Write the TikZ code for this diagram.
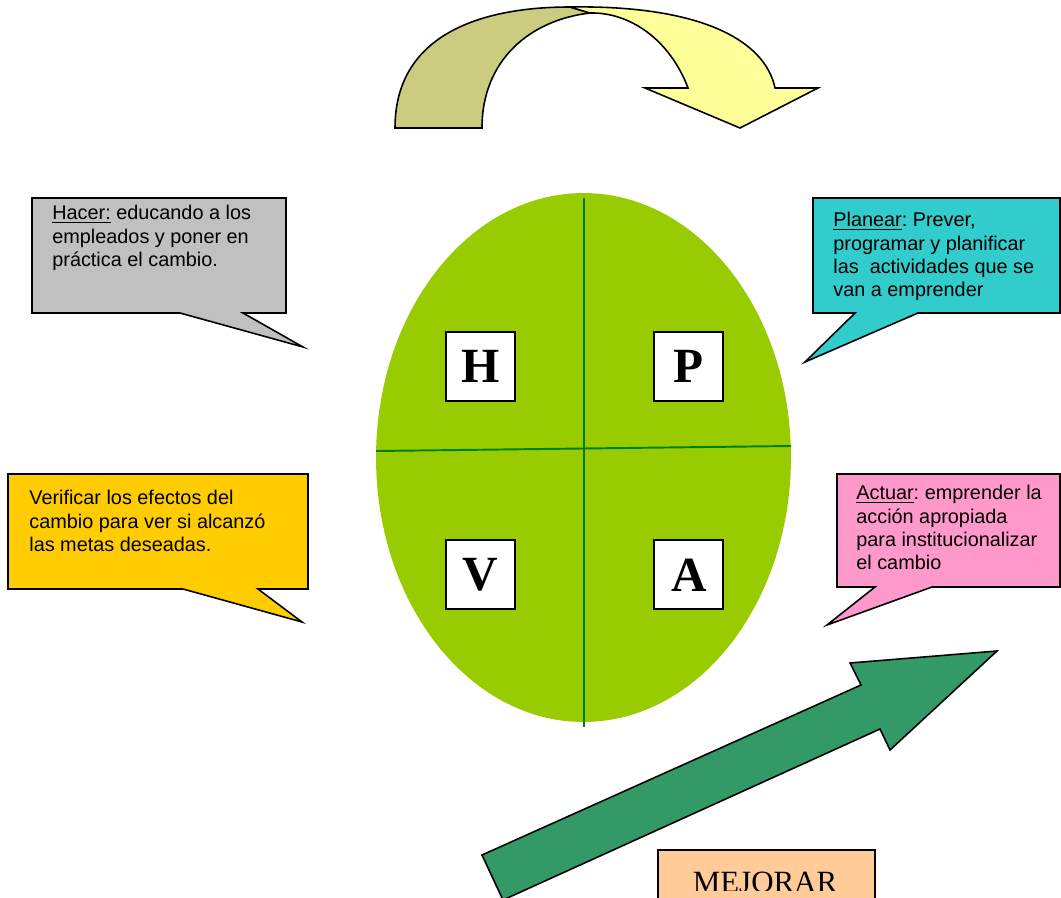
\documentclass[tikz,border=0pt]{standalone}
\usepackage{fontspec}
\newfontfamily\arialfont{Liberation Sans}
\newfontfamily\timesfont{Liberation Serif}
\usetikzlibrary{positioning, shapes.geometric}

\definecolor{verdeciclo}{HTML}{99CC00}
\definecolor{verdecruz}{HTML}{008000}
\definecolor{grishacer}{HTML}{C0C0C0}
\definecolor{turquesa}{HTML}{33CCCC}
\definecolor{dorado}{HTML}{FFCC00}
\definecolor{rosa}{HTML}{FF99CC}
\definecolor{verdeflecha}{HTML}{339966}
\definecolor{melocoton}{HTML}{FFCC99}
\definecolor{caqui}{HTML}{CCCC80}
\definecolor{amarillo}{HTML}{FFFF99}

\begin{document}
\begin{tikzpicture}[
			x=0.02cm, y=-0.02cm,
			node distance=2.75cm and 2.75cm,
			bubble/.style={draw=black, line width=0.9pt, line join=miter},
			bubbletext/.style={anchor=north west, inner sep=0pt, align=left, font=\arialfont\frenchspacing\fontsize{11.3}{13.3}\selectfont},
			letterbox/.style={rectangle, draw=black, line width=1.1pt, fill=white, minimum size=1.38cm, inner sep=0pt, font=\timesfont\bfseries\fontsize{28}{28}\selectfont},
			cruz/.style={draw=verdecruz, line width=1.1pt},
			flecha/.style={draw=black, line width=0.9pt, line join=miter}
			]
			\useasboundingbox (0,0) rectangle (1061,898);
			\clip (0,0) rectangle (1061,898);
			
			% Top curved arrow
			\draw[flecha, fill=caqui] (395,128) .. controls (395,35) and (480,7) .. (570,7)
				-- (590,13) .. controls (530,20) and (482,60) .. (482,128) -- cycle;
			\draw[flecha, fill=amarillo] (570,7) .. controls (700,5) and (765,40) .. (775,88)
				-- (818,88) -- (740,128) -- (645,88) -- (688,88)
				.. controls (670,40) and (630,12) .. (590,13) -- cycle;
			
			% Cycle
			\node[ellipse, fill=verdeciclo, minimum width=8.3cm, minimum height=10.58cm, inner sep=0pt] (ciclo) at (583.5,457.5) {};
			\draw[cruz] (584,198) -- (584,727);
			\draw[cruz] (376,451) -- (791,446);
			
			% Letters
			\node[letterbox] (hacer) at (480.5,366.5) {H};
			\node[letterbox, right=of hacer] (planear) {P};
			\node[letterbox, below=of hacer] (verificar) {V};
			\node[letterbox, right=of verificar] (actuar) {A};
			
			% Callouts
			\draw[bubble, fill=grishacer] (32,198) -- (286,198) -- (286,313) -- (243,313) -- (303,347) -- (180,313) -- (32,313) -- cycle;
			\draw[bubble, fill=turquesa] (813,198) -- (1060,198) -- (1060,313) -- (918,313) -- (805,362) -- (855,313) -- (813,313) -- cycle;
			\draw[bubble, fill=dorado] (8,474) -- (308,474) -- (308,589) -- (258,589) -- (302,622) -- (183,589) -- (8,589) -- cycle;
			\draw[bubble, fill=rosa] (837,474) -- (1060,474) -- (1060,587) -- (932,587) -- (827,625) -- (875,587) -- (837,587) -- cycle;
			
			\node[bubbletext] (txthacer) at (52,205) {\underline{Hacer:} educando a los\\empleados y poner en\\práctica el cambio.};
			\node[bubbletext] (txtplanear) at (833,212) {\underline{Planear}: Prever,\\programar y planificar\\las~ actividades que se\\van a emprender};
			\node[bubbletext] (txtverificar) at (29,490) {Verificar los efectos del\\cambio para ver si alcanzó\\las metas deseadas.};
			\node[bubbletext] (txtactuar) at (856,485) {\underline{Actuar}: emprender la\\acción apropiada\\para institucionalizar\\el cambio};
			
			% Improvement arrow
			\draw[flecha, fill=verdeflecha] (482,855) -- (861,685) -- (850,663) -- (997,651) -- (890,750) -- (880,729) -- (503,900) -- cycle;
			
			% Label box
			\draw[bubble, fill=melocoton] (658,850) rectangle (875,910);
			\begin{scope}
				\clip (658,850) rectangle (875,890);
				\node[anchor=base, inner sep=0pt, font=\timesfont\fontsize{17.6}{17.6}\selectfont] (mejorar) at (765,892.5) {MEJORAR};
			\end{scope}
		\end{tikzpicture}
\end{document}
